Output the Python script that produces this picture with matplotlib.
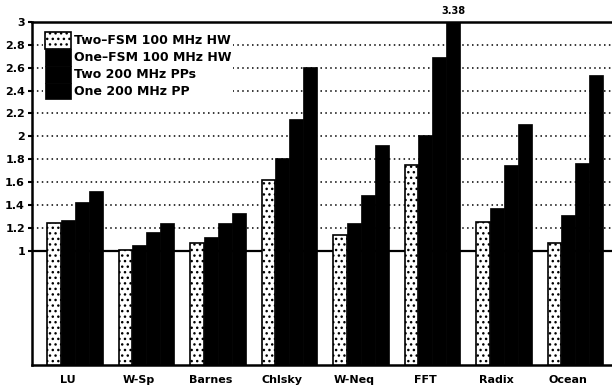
import numpy as np
import matplotlib
matplotlib.use("Agg")
import matplotlib.pyplot as plt

# speedup data
apps = ["LU", "W-Sp", "Barnes", "Chlsky", "W-Neq", "FFT", "Radix", "Ocean"]
two_fsm_hw = [1.24, 1.01, 1.07, 1.62, 1.14, 1.75, 1.25, 1.07]
one_fsm_hw = [1.27, 1.05, 1.12, 1.81, 1.24, 2.01, 1.37, 1.31]
two_pp = [1.43, 1.16, 1.24, 2.15, 1.49, 2.69, 1.75, 1.77]
one_pp = [1.52, 1.24, 1.33, 2.61, 1.92, 3.38, 2.11, 2.54]
series_names = ["Two\u2013FSM 100 MHz HW", "One\u2013FSM 100 MHz HW",
                "Two 200 MHz PPs", "One 200 MHz PP"]
yticks = [1.0, 1.2, 1.4, 1.6, 1.8, 2.0, 2.2, 2.4, 2.6, 2.8, 3.0]

plt.rcParams['font.family'] = ['DejaVu Sans']
plt.rcParams['font.weight'] = 'bold'
plt.rcParams['hatch.linewidth'] = 1.0

fig = plt.figure(figsize=(6.12, 3.89), dpi=100)
ax = fig.add_axes([32 / 612, 24 / 389, 586.3 / 612, 343 / 389])

x = np.arange(len(apps))
w = 0.195
series = [two_fsm_hw, one_fsm_hw, two_pp, one_pp]
for k, vals in enumerate(series):
    pos = x + (k - 1.5) * w
    if k == 0:
        ax.bar(pos, vals, w, facecolor='white', edgecolor='black',
               hatch='...', linewidth=1.2, label=series_names[k], zorder=3)
    else:
        ax.bar(pos, vals, w, color='black', edgecolor='black',
               linewidth=0.5, label=series_names[k], zorder=3)

# value of the clipped FFT bar
i_fft = apps.index("FFT")
ax.annotate(f"{one_pp[i_fft]:.2f}", xy=(x[i_fft] + 1.5 * w, 3.0),
            xytext=(0, 4), textcoords='offset points', ha='center',
            va='bottom', fontsize=7, fontweight='bold', annotation_clip=False)

# grid lines and baseline at 1
for v in yticks[1:-1]:
    ax.axhline(v, color='black', lw=1.1, ls=(0, (1, 2.2)), zorder=1)
ax.axhline(1.0, color='black', lw=1.6, zorder=2)

ax.set_xlim(-0.6, 7.6)
ax.set_ylim(0, 3)
ax.set_yticks(yticks)
ax.set_yticklabels([f"{v:g}" for v in yticks], fontsize=8, fontweight='bold')
ax.set_xticks(x - 0.1)
ax.set_xticklabels(apps, fontsize=8, fontweight='bold')
ax.tick_params(axis='x', length=0, pad=7)
ax.tick_params(axis='y', length=3, width=1.5, pad=2)
for s in ax.spines.values():
    s.set_linewidth(1.8)

leg = ax.legend(loc='upper left', bbox_to_anchor=(0.015, 0.982), frameon=True,
                handlelength=2.1, handleheight=1.7, labelspacing=0.0,
                handletextpad=0.25, borderaxespad=0.2, borderpad=0.1,
                fancybox=False, prop={'weight': 'bold', 'size': 9})
leg.get_frame().set_edgecolor('none')
leg.get_frame().set_facecolor('white')
leg.get_frame().set_alpha(1.0)

fig.savefig("out.png", dpi=100)
